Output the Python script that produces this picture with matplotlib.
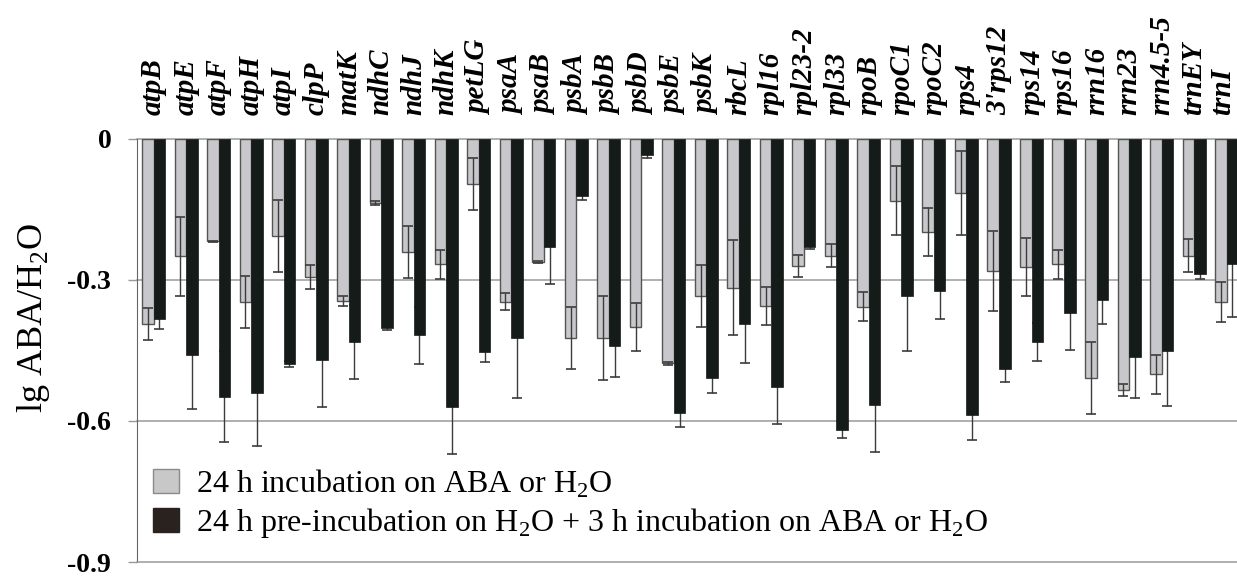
import numpy as np
import matplotlib
matplotlib.use('Agg')
import matplotlib.pyplot as plt
from matplotlib.patches import Patch
from matplotlib.transforms import ScaledTranslation

# genes and values (lg ABA/H2O)
genes = ['atpB', 'atpE', 'atpF', 'atpH', 'atpI', 'clpP', 'matK', 'ndhC', 'ndhJ',
         'ndhK', 'petLG', 'psaA', 'psaB', 'psbA', 'psbB', 'psbD', 'psbE', 'psbK',
         'rbcL', 'rpl16', 'rpl23-2', 'rpl33', 'rpoB', 'rpoC1', 'rpoC2', 'rps4',
         "3'rps12", 'rps14', 'rps16', 'rrn16', 'rrn23', 'rrn4.5-5', 'trnEY', 'trnI']

# 24 h incubation on ABA or H2O
grey_vals = [-0.393, -0.250, -0.218, -0.347, -0.206, -0.294, -0.345, -0.136, -0.240,
             -0.267, -0.096, -0.346, -0.262, -0.423, -0.423, -0.399, -0.477, -0.335,
             -0.316, -0.355, -0.270, -0.248, -0.357, -0.131, -0.198, -0.115,
             -0.281, -0.272, -0.267, -0.509, -0.534, -0.501, -0.248, -0.347]
grey_err = [0.034, 0.085, 0.002, 0.055, 0.077, 0.025, 0.010, 0.005, 0.055,
            0.031, 0.056, 0.018, 0.002, 0.066, 0.089, 0.051, 0.003, 0.066,
            0.102, 0.041, 0.024, 0.025, 0.031, 0.074, 0.052, 0.089,
            0.085, 0.061, 0.031, 0.077, 0.013, 0.041, 0.035, 0.042]

# 24 h pre-incubation on H2O + 3 h incubation on ABA or H2O
black_vals = [-0.382, -0.460, -0.548, -0.540, -0.479, -0.470, -0.432, -0.402, -0.418,
              -0.570, -0.454, -0.424, -0.229, -0.122, -0.441, -0.034, -0.584, -0.509,
              -0.394, -0.528, -0.229, -0.619, -0.567, -0.333, -0.323, -0.587,
              -0.490, -0.432, -0.371, -0.342, -0.463, -0.452, -0.287, -0.265]
black_err = [0.022, 0.114, 0.096, 0.114, 0.007, 0.100, 0.079, 0.004, 0.060,
             0.100, 0.021, 0.126, 0.079, 0.007, 0.065, 0.007, 0.028, 0.032,
             0.082, 0.079, 0.006, 0.018, 0.098, 0.118, 0.059, 0.054,
             0.027, 0.041, 0.077, 0.051, 0.089, 0.117, 0.011, 0.114]

yticks = [0, -0.3, -0.6, -0.9]
ytick_labels = ['0', '-0.3', '-0.6', '-0.9']

plt.rcParams['font.family'] = 'Liberation Serif'
plt.rcParams['mathtext.fontset'] = 'custom'
plt.rcParams['mathtext.rm'] = 'Liberation Serif'

grey_c = '#c8c8cc'
dark_c = '#141b19'
grid_c = '#9a9a9a'

fig = plt.figure(figsize=(12.37, 5.79), dpi=100)
ax = fig.add_axes([137 / 1237, 1 - 562 / 579, 1 - 137 / 1237, 423 / 579])

x = np.arange(len(genes))
w = 0.355
ax.bar(x - w / 2, grey_vals, w, color=grey_c, edgecolor='#555555', linewidth=1.0, zorder=2)
ax.bar(x + w / 2, black_vals, w, color=dark_c, edgecolor=dark_c, linewidth=0.5, zorder=2)
ax.errorbar(x - w / 2, grey_vals, yerr=grey_err, fmt='none', ecolor='#3c3c3c',
            elinewidth=1.0, capsize=3.3, capthick=1.2, zorder=3)
# dark bars hide the upper half of their error bars
ax.errorbar(x + w / 2, black_vals, yerr=black_err, fmt='none', ecolor='#3c3c3c',
            elinewidth=1.0, capsize=3.3, capthick=1.2, zorder=1.5)

ax.set_xlim(-0.51, 33.32)
ax.set_ylim(-0.9, 0)
for y in yticks[:-1]:
    ax.axhline(y, color=grid_c, lw=1.1, zorder=1, clip_on=False)

ax.set_yticks(yticks)
ax.set_yticklabels(ytick_labels, fontsize=20, fontweight='bold')
ax.tick_params(axis='y', direction='out', length=6.5, width=1.0, color=grid_c, pad=12)

ax.xaxis.tick_top()
ax.set_xticks(x)
ax.set_xticklabels(genes, rotation=90, fontsize=21, fontweight='bold', fontstyle='italic')
ax.tick_params(axis='x', length=0, pad=17)
# last label sits at the very edge: nudge it a few pixels left
last = ax.get_xticklabels()[-1]
last.set_transform(last.get_transform() + ScaledTranslation(-4 / 100, 0, fig.dpi_scale_trans))

ax.spines['top'].set_visible(False)
ax.spines['right'].set_visible(False)
ax.spines['left'].set_color('#666666')
ax.spines['bottom'].set_color(grid_c)
ax.spines['bottom'].set_linewidth(1.1)

ax.set_ylabel('lg ABA/H$_2$O', fontsize=26)
ax.yaxis.set_label_coords(-0.077, 0.577)

handles = [Patch(facecolor='#c8c8c8', edgecolor='#8a8a8a', linewidth=1.0),
           Patch(facecolor='#2a221e', edgecolor='#2a221e', linewidth=1.0)]
labels = ['24 h incubation on ABA or H$_2$O',
          '24 h pre-incubation on H$_2$O + 3 h incubation on ABA or H$_2$O']
ax.legend(handles, labels, loc='upper left', bbox_to_anchor=(0.0145, 0.224),
          frameon=False, fontsize=23, handlelength=0.8, handleheight=0.8,
          handletextpad=0.55, labelspacing=0.2, borderaxespad=0, borderpad=0)

fig.savefig('out.png', dpi=100)
